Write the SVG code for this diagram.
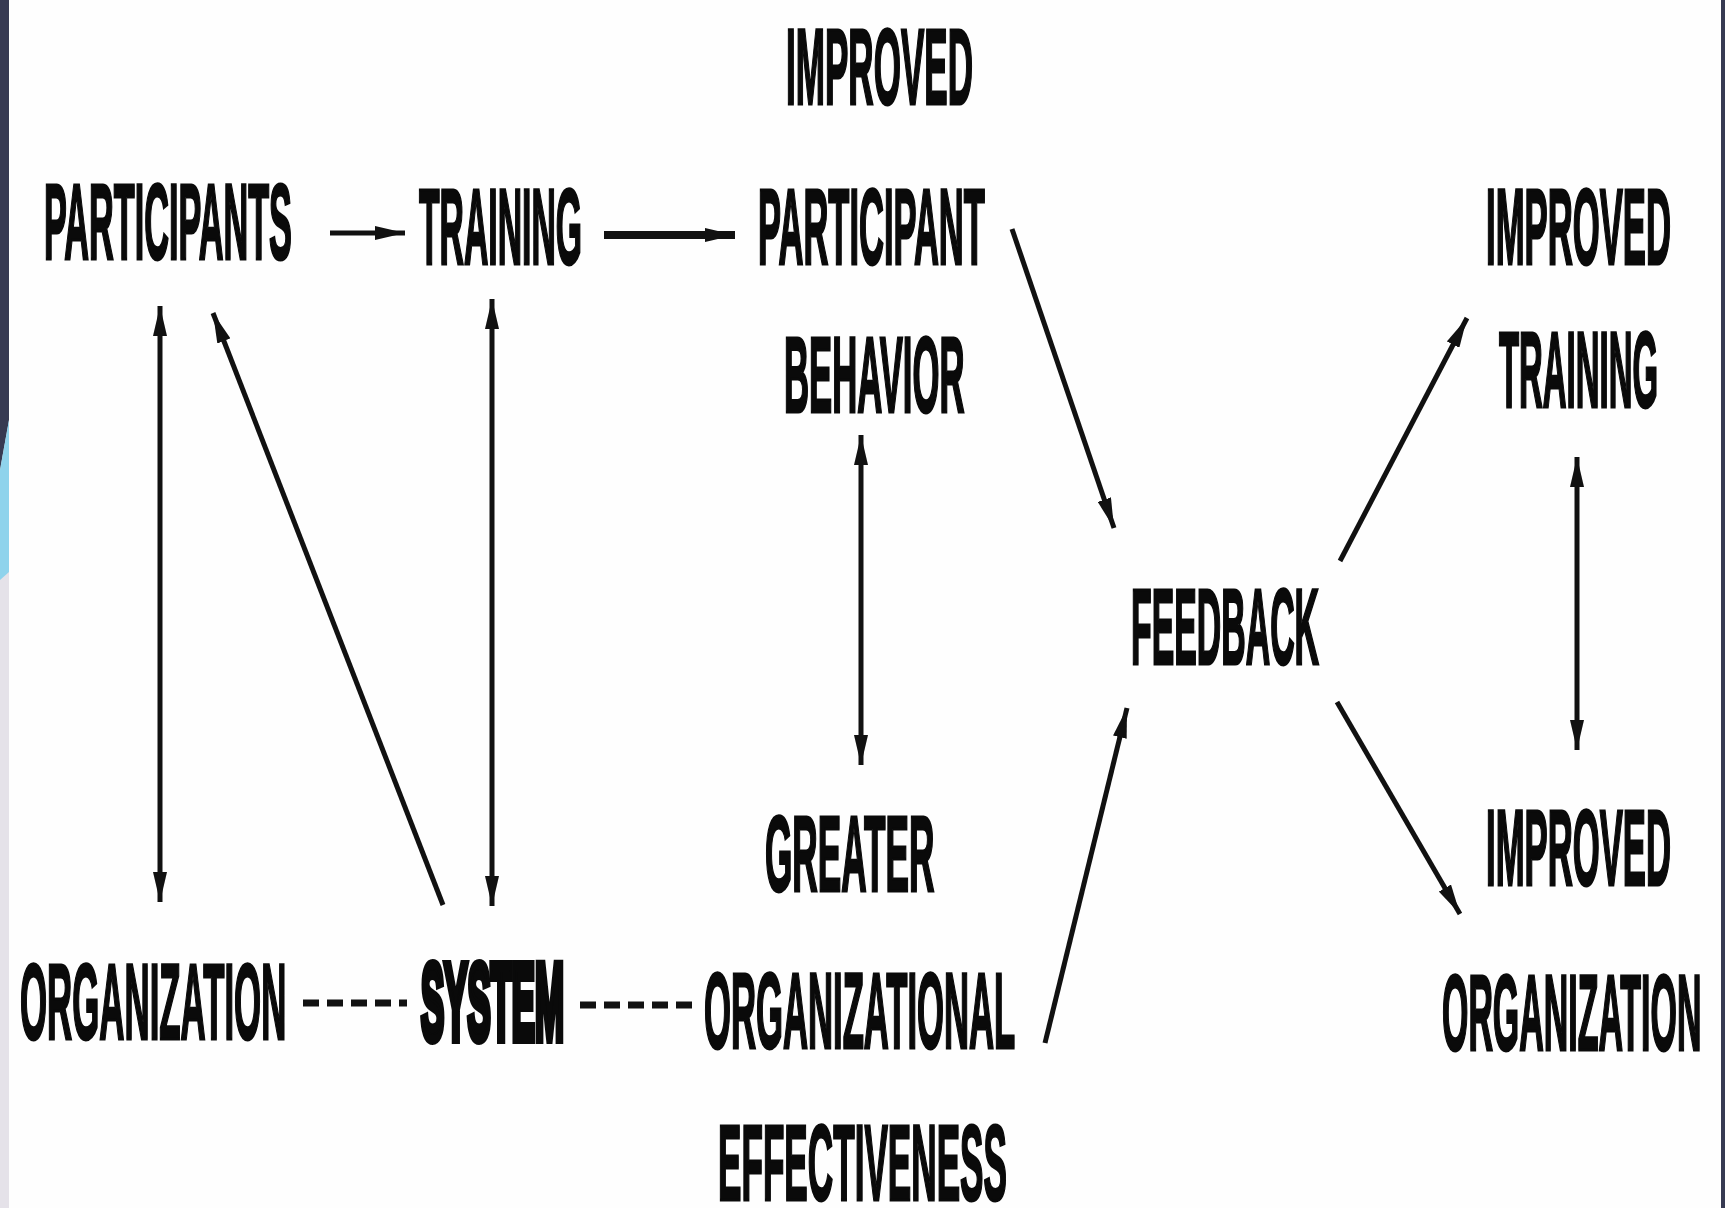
<svg xmlns="http://www.w3.org/2000/svg" width="1725" height="1208" viewBox="0 0 1725 1208">
<style>
.lbl{font-family:"Liberation Sans",Arial,sans-serif;font-weight:bold;font-size:108px;fill:#0a0a0a;stroke:#0a0a0a;stroke-width:3}
.sys{stroke-width:10}
.ln{stroke:#111;stroke-width:5;fill:none}
.dash{stroke:#111;stroke-width:7;fill:none;stroke-dasharray:16 8}
</style>
<defs>
<marker id="ah" viewBox="0 0 30 14" refX="30" refY="7" markerWidth="30" markerHeight="14" markerUnits="userSpaceOnUse" orient="auto-start-reverse">
<path d="M0,0 L30,7 L0,14 z" fill="#111"/>
</marker>
</defs>
<rect width="1725" height="1208" fill="#fefefe"/>
<g id="frame">
<rect x="0" y="0" width="9" height="1208" fill="#e5e2e9"/>
<path d="M0,0 H9 V420 L0,470 z" fill="#373a52"/>
<path d="M9,420 V572 L0,580 V470 z" fill="#8fd3ec"/>
<rect x="1721" y="0" width="4" height="1208" fill="#373a52"/>
</g>
<g id="connectors">
<line class="ln" x1="330" y1="233" x2="405" y2="233" marker-end="url(#ah)"/>
<line class="ln" style="stroke-width:8" x1="604" y1="235" x2="735" y2="235" marker-end="url(#ah)"/>
<line class="ln" x1="160" y1="306" x2="160" y2="902" marker-start="url(#ah)" marker-end="url(#ah)"/>
<line class="ln" x1="443" y1="905" x2="213" y2="313" marker-end="url(#ah)"/>
<line class="ln" x1="492" y1="299" x2="492" y2="906" marker-start="url(#ah)" marker-end="url(#ah)"/>
<line class="ln" x1="861" y1="435" x2="861" y2="765" marker-start="url(#ah)" marker-end="url(#ah)"/>
<line class="ln" x1="1012" y1="229" x2="1114" y2="528" marker-end="url(#ah)"/>
<line class="ln" x1="1045" y1="1043" x2="1127" y2="708" marker-end="url(#ah)"/>
<line class="ln" x1="1340" y1="561" x2="1467" y2="318" marker-end="url(#ah)"/>
<line class="ln" x1="1337" y1="702" x2="1460" y2="914" marker-end="url(#ah)"/>
<line class="ln" x1="1577" y1="457" x2="1577" y2="750" marker-start="url(#ah)" marker-end="url(#ah)"/>
<line class="dash" x1="303" y1="1003" x2="407" y2="1003"/>
<line class="dash" x1="580" y1="1005" x2="693" y2="1005"/>
</g>
<g id="improved-top"><text class="lbl" transform="translate(786,104) scale(0.3246,1)">IMPROVED</text></g>
<g id="participants"><text class="lbl" transform="translate(44,259) scale(0.317,1)">PARTICIPANTS</text></g>
<g id="training"><text class="lbl" transform="translate(419,264) scale(0.3123,1)">TRAINING</text></g>
<g id="participant-behavior">
<text class="lbl" transform="translate(758,264) scale(0.3196,1)">PARTICIPANT</text>
<text class="lbl" transform="translate(784,412) scale(0.3211,1)">BEHAVIOR</text>
</g>
<g id="improved-training">
<text class="lbl" transform="translate(1486,264) scale(0.3212,1)">IMPROVED</text>
<text class="lbl" transform="translate(1499,407) scale(0.3046,1)">TRAINING</text>
</g>
<g id="feedback"><text class="lbl" transform="translate(1131,664) scale(0.3134,1)">FEEDBACK</text></g>
<g id="greater-effectiveness">
<text class="lbl" transform="translate(765,891) scale(0.3258,1)">GREATER</text>
<text class="lbl" transform="translate(704,1048) scale(0.321,1)">ORGANIZATIONAL</text>
<text class="lbl" transform="translate(718,1200) scale(0.3254,1)">EFFECTIVENESS</text>
</g>
<g id="organization"><text class="lbl" transform="translate(20,1039) scale(0.3225,1)">ORGANIZATION</text></g>
<g id="system"><text class="lbl sys" transform="translate(421,1039) scale(0.322,1)">SYSTEM</text></g>
<g id="improved-organization">
<text class="lbl" transform="translate(1486,885) scale(0.3212,1)">IMPROVED</text>
<text class="lbl" transform="translate(1442,1050) scale(0.3141,1)">ORGANIZATION</text>
</g>
</svg>
